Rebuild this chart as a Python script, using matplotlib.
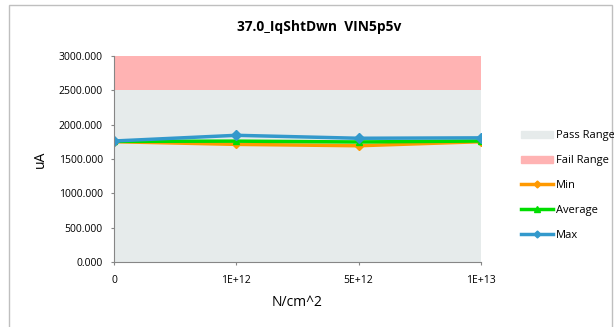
import numpy as np
import matplotlib
matplotlib.use('Agg')
import matplotlib.pyplot as plt
from matplotlib.patches import Patch, Rectangle
from matplotlib.lines import Line2D
from matplotlib.ticker import FormatStrFormatter

plt.rcParams['font.family'] = ['Open Sans', 'DejaVu Sans']

categories = ['0', '1E+12', '5E+12', '1E+13']
pass_limit = [2500, 2500, 2500, 2500]
fail_limit = [3000, 3000, 3000, 3000]
min_vals = [1752, 1713, 1693, 1752]
avg_vals = [1757, 1760, 1748, 1762]
max_vals = [1762, 1845, 1802, 1808]

fig = plt.figure(figsize=(6.14, 3.27), dpi=100)
fig.patches.append(Rectangle((8.5/614, -0.05), 603/614, 1 - 4.5/327 + 0.05, transform=fig.transFigure,
                             fill=False, edgecolor='#BFBFBF', linewidth=1))
ax = fig.add_axes([114/614, 1 - 262/327, 367/614, 206/327])

x = np.arange(len(categories))
ax.fill_between(x, 0, pass_limit, color='#E6EBEB', linewidth=0)
ax.fill_between(x, pass_limit, fail_limit, color='#FFB3B3', linewidth=0)
ax.plot(x, min_vals, color='#FF9900', lw=2.5, marker='D', ms=4.5)
ax.plot(x, avg_vals, color='#00DD00', lw=2.5, marker='^', ms=5)
ax.plot(x, max_vals, color='#3399CC', lw=2.5, marker='D', ms=5)

ax.set_xlim(0, 3)
ax.set_ylim(0, 3000)
ax.set_yticks(np.arange(0, 3001, 500))
ax.yaxis.set_major_formatter(FormatStrFormatter('%.3f'))
ax.set_xticks(x)
ax.set_xticklabels(categories)
for s in ['top', 'right']:
    ax.spines[s].set_visible(False)
for s in ['left', 'bottom']:
    ax.spines[s].set_color('#868686')
ax.tick_params(colors='#868686', labelcolor='black', labelsize=7.5, length=2.5, direction='out')
ax.tick_params(axis='y', pad=5.5)
ax.tick_params(axis='x', pad=7)

fig.text(319/614, 1 - 27/327, '37.0_IqShtDwn  VIN5p5v', fontsize=9.9, fontweight='bold',
         ha='center', va='center')
fig.text(297/614, 1 - 302/327, 'N/cm^2', fontsize=10, ha='center', va='center')
fig.text(40/614, 1 - 159/327, 'uA', fontsize=10, ha='center', va='center', rotation=90)

handles = [Patch(color='#E6EBEB'), Patch(color='#FFB3B3'),
           Line2D([], [], color='#FF9900', lw=2.5, marker='D', ms=3.5),
           Line2D([], [], color='#00DD00', lw=2.5, marker='^', ms=4),
           Line2D([], [], color='#3399CC', lw=2.5, marker='D', ms=3.5)]
labels = ['Pass Range', 'Fail Range', 'Min', 'Average', 'Max']
fig.legend(handles, labels, loc='upper left', bbox_to_anchor=(516.5/614, 1 - 126/327),
           frameon=False, fontsize=8, handlelength=2.9, handletextpad=0.27,
           labelspacing=1.25, borderaxespad=0)

fig.savefig('out.png', dpi=100)
